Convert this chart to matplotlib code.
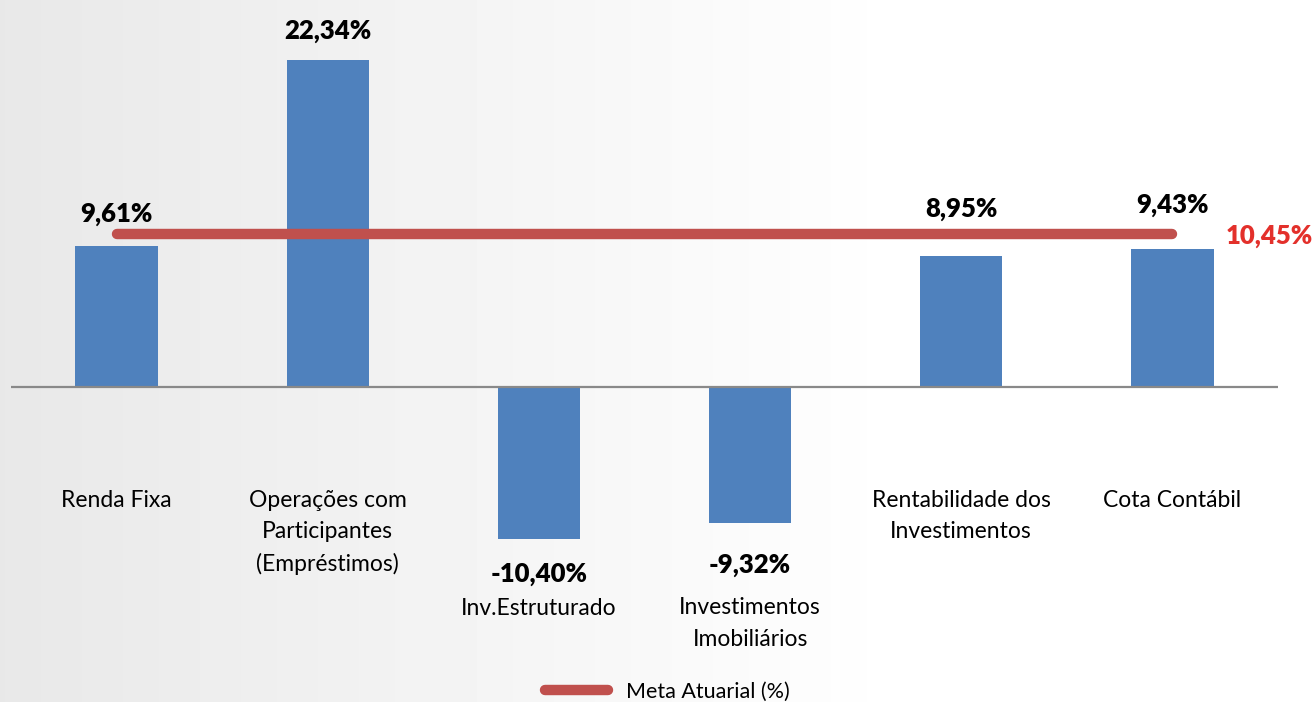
import matplotlib.pyplot as plt
import numpy as np

plt.rcParams['font.family'] = ['Lato', 'DejaVu Sans']

categories = ['Renda Fixa', 'Operações com\nParticipantes\n(Empréstimos)', 'Inv.Estruturado',
              'Investimentos\nImobiliários', 'Rentabilidade dos\nInvestimentos', 'Cota Contábil']
values = [9.61, 22.34, -10.40, -9.32, 8.95, 9.43]
value_labels = ['9,61%', '22,34%', '-10,40%', '-9,32%', '8,95%', '9,43%']
meta = 10.45
meta_label = '10,45%'

# label offsets (pixels) picked per bar to match the original placement
value_dy = [32, 29, -35, -42, 47, 44]
cat_dy = [-103, -103, -59, -74, -103, -103]

bar_color = '#4F81BD'
line_color = '#C0504D'

fig = plt.figure(figsize=(13.14, 7.02), dpi=100)

# light gray to white background gradient
bg = fig.add_axes([0, 0, 1, 1], zorder=-10)
grad = np.clip(np.linspace(0.91, 1.04, 256), 0, 1)
bg.imshow(np.tile(grad, (2, 1)), cmap='gray', vmin=0, vmax=1, aspect='auto',
          extent=[0, 1, 0, 1])
bg.set_xlim(0, 1)
bg.set_ylim(0, 1)
bg.axis('off')

ax = fig.add_axes([11 / 1314, 1 - 562.7 / 702, 1267 / 1314, (562.7 - 21) / 702])
ax.patch.set_alpha(0)
x = np.arange(len(categories))
ax.bar(x, values, width=0.39, color=bar_color, zorder=2)
ax.axhline(0, color='#898989', lw=1.6, zorder=3)
line, = ax.plot([x[0], x[-1]], [meta, meta], color=line_color, lw=7.5,
                solid_capstyle='round', zorder=4, label='Meta Atuarial (%)')

ax.set_xlim(-0.5, 5.5)
ax.set_ylim(-12, 25)
ax.axis('off')

for i, v in enumerate(values):
    ax.annotate(value_labels[i], (x[i], v), xytext=(0, value_dy[i]),
                textcoords='offset pixels', ha='center', va='center',
                fontsize=18.5, fontweight='heavy', color='black', zorder=5)
    base = 0 if v > 0 else v
    ax.annotate(categories[i], (x[i], base), xytext=(0, cat_dy[i]),
                textcoords='offset pixels', ha='center', va='top',
                fontsize=16.5, color='black', linespacing=1.6)

ax.annotate(meta_label, (x[-1], meta), xytext=(53, -2), textcoords='offset pixels',
            ha='left', va='center', fontsize=18.5, fontweight='heavy', color='#E3302B')

fig.legend(handles=[line], loc='center', bbox_to_anchor=(0.508, 1 - 692 / 702),
           frameon=False, fontsize=15.5, handlelength=2.9, handletextpad=0.85)

fig.savefig('out.png', dpi=100)
